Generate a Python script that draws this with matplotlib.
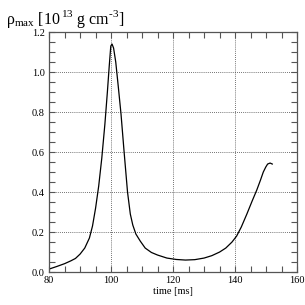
import matplotlib
matplotlib.use("Agg")
import matplotlib.pyplot as plt
from matplotlib.ticker import MultipleLocator

# maximum density vs time
time_ms = [80.0, 82.5, 85.0, 87.0, 88.5, 90.0, 91.5, 93.0, 94.0, 95.0, 96.0, 97.0,
           98.0, 98.8, 99.4, 99.9, 100.3, 100.8, 101.5, 102.3, 103.2, 104.2, 105.3,
           106.2, 107.0, 108.0, 109.4, 111.0, 113.0, 115.0, 118.0, 121.0, 124.0,
           127.0, 130.0, 132.5, 135.0, 137.0, 139.0, 140.5, 142.0, 143.8, 145.5,
           147.0, 148.2, 149.1, 149.9, 150.5, 151.3, 152.0]
rho_max = [0.015, 0.028, 0.042, 0.056, 0.068, 0.090, 0.12, 0.17, 0.23, 0.32, 0.43, 0.57,
           0.74, 0.90, 1.03, 1.13, 1.14, 1.12, 1.05, 0.93, 0.79, 0.60, 0.40,
           0.29, 0.235, 0.19, 0.155, 0.12, 0.098, 0.085, 0.070, 0.063, 0.060,
           0.062, 0.070, 0.082, 0.100, 0.120, 0.150, 0.180, 0.225, 0.29, 0.355,
           0.41, 0.46, 0.50, 0.525, 0.54, 0.545, 0.54]

plt.rcParams["font.family"] = ["Liberation Serif", "DejaVu Serif"]
plt.rcParams["mathtext.fontset"] = "custom"
plt.rcParams["mathtext.rm"] = "Liberation Serif"

fig = plt.figure(figsize=(3.05, 3.05), dpi=100, facecolor="white")
ax = fig.add_axes([0.161, 0.108, 0.813, 0.787])
ax.plot(time_ms, rho_max, color="black", lw=0.9)

ax.set_xlim(80, 160)
ax.set_ylim(0.0, 1.2)
ax.xaxis.set_major_locator(MultipleLocator(20))
ax.xaxis.set_minor_locator(MultipleLocator(5))
ax.yaxis.set_major_locator(MultipleLocator(0.2))
ax.yaxis.set_minor_locator(MultipleLocator(0.05))
ax.yaxis.set_major_formatter(plt.FormatStrFormatter("%.1f"))
ax.tick_params(which="both", direction="in", top=True, right=True,
               labelsize=7.5, color="#555555", width=0.8, pad=3)
ax.tick_params(which="major", length=4)
ax.tick_params(which="minor", length=4)
for s in ax.spines.values():
    s.set_color("#555555"); s.set_linewidth(0.9)
ax.grid(True, which="major", ls=(0, (1, 1.5)), color="#444444", lw=0.6)

ax.set_xlabel("time [ms]", fontsize=7.5, labelpad=1)
fig.text(0.02, 0.975, "ρ$_{\\rm max}$ [10$^{\\,\\rm 13}$ g cm$^{\\rm \u20103}$]", fontsize=11.5,
         ha="left", va="top")

fig.savefig("out.png", dpi=100)
